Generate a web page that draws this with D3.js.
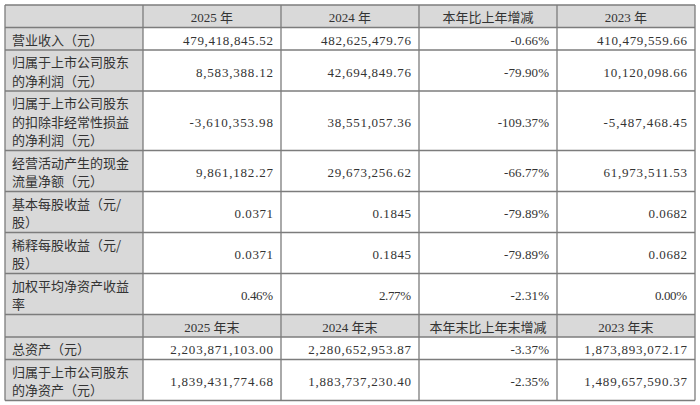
<!DOCTYPE html>
<html>
<head>
<meta charset="utf-8">
<script src="https://cdn.jsdelivr.net/npm/d3@7"></script>
<style>
  body { margin: 0; background: #fff; }
  svg { display: block; }
</style>
</head>
<body>
<div id="chart"></div>
<script>
// ---- data ----
var header_period = ['', '2025 年', '2024 年', '本年比上年增减', '2023 年'];
var header_balance = ['', '2025 年末', '2024 年末', '本年末比上年末增减', '2023 年末'];

var period_labels = [
  '营业收入（元）',
  '归属于上市公司股东\n的净利润（元）',
  '归属于上市公司股东\n的扣除非经常性损益\n的净利润（元）',
  '经营活动产生的现金\n流量净额（元）',
  '基本每股收益（元/\n股）',
  '稀释每股收益（元/\n股）',
  '加权平均净资产收益\n率'
];
var period_2025 = ['479,418,845.52', '8,583,388.12', '-3,610,353.98', '9,861,182.27', '0.0371', '0.0371', '0.46%'];
var period_2024 = ['482,625,479.76', '42,694,849.76', '38,551,057.36', '29,673,256.62', '0.1845', '0.1845', '2.77%'];
var period_change = ['-0.66%', '-79.90%', '-109.37%', '-66.77%', '-79.89%', '-79.89%', '-2.31%'];
var period_2023 = ['410,479,559.66', '10,120,098.66', '-5,487,468.45', '61,973,511.53', '0.0682', '0.0682', '0.00%'];

var balance_labels = ['总资产（元）', '归属于上市公司股东\n的净资产（元）'];
var balance_2025 = ['2,203,871,103.00', '1,839,431,774.68'];
var balance_2024 = ['2,280,652,953.87', '1,883,737,230.40'];
var balance_change = ['-3.37%', '-2.35%'];
var balance_2023 = ['1,873,893,072.17', '1,489,657,590.37'];

// ---- layout ----
const svg_width = 700, svg_height = 405;
const table_left = 5, table_right = 695, table_top = 5;
const line_h = 18.5;
const pad_x = 7;
const char_w = 6.42;
const gray = '#d9d9d9';
const border = '#7c7c7c';
const text_color = '#333';
const cjk_font = '"Noto Sans CJK SC", "Noto Sans", sans-serif';
const num_font = '"Liberation Serif", "DejaVu Serif", serif';

// build rows
var rows = [];
rows.push({type: 'header', cells: header_period});
period_labels.forEach(function(l, i) {
  rows.push({type: 'data', cells: [l, period_2025[i], period_2024[i], period_change[i], period_2023[i]]});
});
rows.push({type: 'header', cells: header_balance});
balance_labels.forEach(function(l, i) {
  rows.push({type: 'data', cells: [l, balance_2025[i], balance_2024[i], balance_change[i], balance_2023[i]]});
});
rows.forEach(function(r) {
  r.lines = r.type == 'header' ? 1 : r.cells[0].split('\n').length;
  r.h = 4 + line_h * r.lines;
});
var ends = d3.cumsum(rows, d => d.h);
rows.forEach(function(r, i) { r.y = table_top + ends[i] - r.h; });

var x = d3.scaleBand().domain(d3.range(5)).range([table_left, table_right]).padding(0);

var svg = d3.select('#chart').append('svg')
  .attr('width', svg_width)
  .attr('height', svg_height);

// backgrounds
var row_g = svg.selectAll('g.row').data(rows).enter().append('g')
  .attr('class', 'row')
  .attr('transform', d => `translate(0,${d.y})`);

row_g.selectAll('rect.bg')
  .data(d => d.cells.map((c, j) => ({row: d, j: j, text: c})))
  .enter().append('rect')
  .attr('class', 'bg')
  .attr('x', d => x(d.j))
  .attr('y', 0)
  .attr('width', x.bandwidth())
  .attr('height', d => d.row.h)
  .attr('fill', d => (d.row.type == 'header' || d.j == 0) ? gray : '#fff');

// text
row_g.each(function(r) {
  var g = d3.select(this);
  var cy = r.h / 2 + 1.5;
  r.cells.forEach(function(c, j) {
    if (!c) return;
    if (r.type == 'header') {
      g.append('text')
        .attr('x', x(j) + x.bandwidth() / 2)
        .attr('y', cy)
        .attr('dy', '0.36em')
        .attr('text-anchor', 'middle')
        .attr('font-family', j == 3 ? cjk_font : num_font + ',' + cjk_font)
        .attr('font-size', 13)
        .attr('fill', text_color)
        .text(c);
    } else if (j == 0) {
      var lines = c.split('\n');
      lines.forEach(function(l, k) {
        g.append('text')
          .attr('x', x(0) + pad_x)
          .attr('y', cy + (k - (lines.length - 1) / 2) * line_h)
          .attr('dy', '0.36em')
          .attr('font-family', cjk_font)
          .attr('font-size', 13)
          .attr('fill', text_color)
          .text(l);
      });
    } else {
      g.append('text')
        .attr('x', x(j) + x.bandwidth() - 8)
        .attr('y', cy)
        .attr('dy', '0.36em')
        .attr('text-anchor', 'end')
        .attr('font-family', num_font)
        .attr('font-size', 13)
        .attr('fill', text_color)
        .attr('textLength', c.length * char_w)
        .attr('lengthAdjust', 'spacing')
        .text(c);
    }
  });
});

// grid lines
var table_bottom = table_top + ends[ends.length - 1];
svg.selectAll('line.h')
  .data([table_top].concat(rows.map(r => r.y + r.h)))
  .enter().append('line')
  .attr('x1', table_left).attr('x2', table_right)
  .attr('y1', d => d).attr('y2', d => d)
  .attr('stroke', border)
  .attr('stroke-width', 1.3);
svg.selectAll('line.v')
  .data(d3.range(6).map(i => i < 5 ? x(i) : table_right))
  .enter().append('line')
  .attr('x1', d => d).attr('x2', d => d)
  .attr('y1', table_top).attr('y2', table_bottom)
  .attr('stroke', border)
  .attr('stroke-width', 1.3);
</script>
</body>
</html>
